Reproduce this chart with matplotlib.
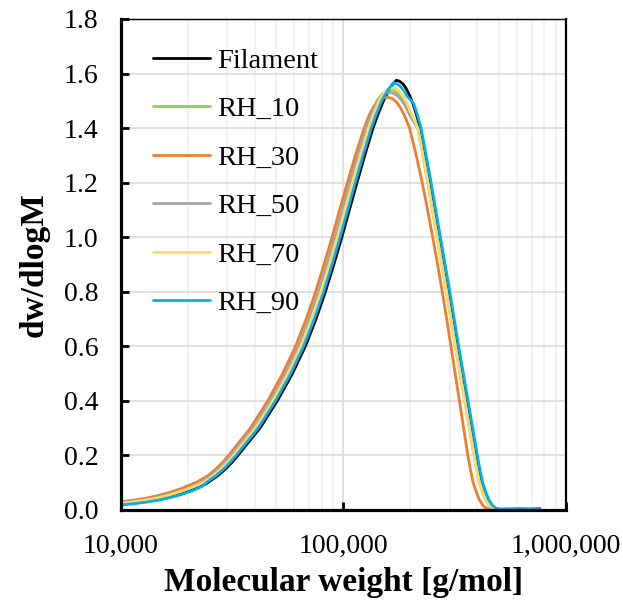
import numpy as np
import matplotlib.pyplot as plt
from matplotlib.ticker import FuncFormatter, LogLocator, MultipleLocator

plt.rcParams['font.family'] = ['Liberation Serif', 'DejaVu Serif']

# molecular weight [g/mol] and dw/dlogM for each sample
m_fil = [10000, 11480, 13180, 14790, 16600, 18620, 20890, 23170, 24600, 27230, 29510, 31620, 33570,
         42170, 50470, 59020, 67450, 75340, 82990, 90570, 98400, 106400, 115100, 124700, 135800,
         142900, 151400, 160300, 166300, 173000, 178600, 184900, 191400, 198200, 205100, 212800,
         221300, 233300, 245500, 257600, 270400, 283800, 297800, 311900, 326600, 342800, 359700,
         377600, 396300, 406400, 418800, 432500, 447700, 464500, 481900, 501200, 562000, 631000,
         708000, 758600]
w_fil = [0.02, 0.025, 0.031, 0.038, 0.047, 0.058, 0.072, 0.088, 0.10, 0.125, 0.15, 0.175, 0.20,
         0.30, 0.40, 0.50, 0.60, 0.70, 0.80, 0.90, 1.00, 1.10, 1.20, 1.30, 1.40,
         1.45, 1.50, 1.54, 1.56, 1.575, 1.572, 1.562, 1.545, 1.52, 1.49, 1.45,
         1.40, 1.30, 1.20, 1.10, 1.00, 0.90, 0.80, 0.70, 0.60, 0.50, 0.40,
         0.30, 0.20, 0.15, 0.10, 0.065, 0.035, 0.015, 0.006, 0.002, 0.002, 0.003,
         0.002, 0.004]

m_rh10 = [10000, 11480, 13180, 14790, 16600, 18620, 20890, 22950, 25410, 27530, 29500, 31320,
          39340, 47090, 55070, 62930, 70290, 77430, 84500, 91810, 99270, 107400, 116300, 126700,
          133300, 141300, 150000, 157000, 163000, 169000, 176000, 183000, 190000, 197000, 205000,
          216400, 228200, 240100, 251900, 264500, 277600, 291200, 305000, 319400, 335300, 351800,
          369300, 387600, 397500, 409600, 423000, 437900, 454300, 471300, 490200, 540000, 610000,
          690000, 760000]
w_rh10 = [0.026, 0.032, 0.039, 0.047, 0.057, 0.07, 0.086, 0.10, 0.125, 0.15, 0.175, 0.20,
          0.30, 0.40, 0.50, 0.60, 0.70, 0.80, 0.90, 1.00, 1.10, 1.20, 1.30, 1.40,
          1.45, 1.50, 1.525, 1.537, 1.54, 1.537, 1.527, 1.51, 1.488, 1.46, 1.43,
          1.40, 1.30, 1.20, 1.10, 1.00, 0.90, 0.80, 0.70, 0.60, 0.50, 0.40,
          0.30, 0.20, 0.15, 0.10, 0.065, 0.035, 0.015, 0.006, 0.002, 0.005, 0.003,
          0.004, 0.003]

m_rh30 = [10000, 11480, 13180, 14790, 16600, 18620, 20890, 21680, 24550, 26730, 28710, 30480,
          38190, 45710, 53330, 60950, 68080, 74990, 81850, 88920, 96160, 104200, 113200, 123900,
          130900, 137100, 144500, 151400, 158100, 165200, 172600, 180300, 188400, 198200, 212300,
          225900, 238800, 251800, 264900, 278000, 291100, 304100, 317700, 331900, 346700, 362200,
          371500, 382800, 395400, 409300, 424600, 439500, 457100, 524800, 602600, 676100, 741300]
w_rh30 = [0.03, 0.036, 0.044, 0.053, 0.064, 0.078, 0.095, 0.10, 0.125, 0.15, 0.175, 0.20,
          0.30, 0.40, 0.50, 0.60, 0.70, 0.80, 0.90, 1.00, 1.10, 1.20, 1.30, 1.40,
          1.45, 1.48, 1.50, 1.51, 1.513, 1.509, 1.497, 1.475, 1.445, 1.40, 1.30,
          1.20, 1.10, 1.00, 0.90, 0.80, 0.70, 0.60, 0.50, 0.40, 0.30, 0.20,
          0.15, 0.10, 0.065, 0.035, 0.015, 0.006, 0.002, 0.002, 0.003, 0.002, 0.003]

m_rh50 = [10000, 11480, 13180, 14790, 16600, 18620, 20890, 22880, 25320, 27440, 29410, 31220,
          39220, 46940, 54890, 62730, 70070, 77180, 84230, 91510, 98950, 107000, 116000, 126300,
          133000, 141000, 149500, 156000, 162000, 168000, 175000, 182000, 189000, 196000, 204000,
          215800, 227500, 239400, 251200, 263600, 276700, 290400, 304100, 318400, 334200, 350700,
          368200, 386400, 396200, 408300, 421700, 436500, 452900, 469900, 488700, 530000, 600000,
          680000, 750000]
w_rh50 = [0.026, 0.032, 0.039, 0.047, 0.057, 0.07, 0.086, 0.10, 0.125, 0.15, 0.175, 0.20,
          0.30, 0.40, 0.50, 0.60, 0.70, 0.80, 0.90, 1.00, 1.10, 1.20, 1.30, 1.40,
          1.45, 1.49, 1.515, 1.527, 1.53, 1.527, 1.518, 1.503, 1.483, 1.457, 1.43,
          1.40, 1.30, 1.20, 1.10, 1.00, 0.90, 0.80, 0.70, 0.60, 0.50, 0.40,
          0.30, 0.20, 0.15, 0.10, 0.065, 0.035, 0.015, 0.006, 0.002, 0.003, 0.002,
          0.004, 0.003]

m_rh70 = [10000, 11480, 13180, 14790, 16600, 18620, 20890, 23490, 26000, 28180, 30200, 32060,
          40270, 48200, 56360, 64410, 71950, 79250, 86490, 93970, 101600, 109900, 119100, 129700,
          136500, 144600, 153000, 159500, 165000, 171000, 178000, 185000, 192000, 199000, 207000,
          215800, 227500, 239400, 251200, 263600, 276700, 290400, 304100, 318400, 334200, 350700,
          368200, 386400, 396200, 408300, 421700, 436500, 452900, 469900, 488700, 540000, 600000,
          680000, 750000]
w_rh70 = [0.024, 0.03, 0.037, 0.045, 0.055, 0.068, 0.083, 0.10, 0.125, 0.15, 0.175, 0.20,
          0.30, 0.40, 0.50, 0.60, 0.70, 0.80, 0.90, 1.00, 1.10, 1.20, 1.30, 1.40,
          1.45, 1.50, 1.53, 1.545, 1.548, 1.545, 1.535, 1.518, 1.495, 1.465, 1.435,
          1.40, 1.30, 1.20, 1.10, 1.00, 0.90, 0.80, 0.70, 0.60, 0.50, 0.40,
          0.30, 0.20, 0.15, 0.10, 0.065, 0.035, 0.015, 0.006, 0.002, 0.003, 0.002,
          0.004, 0.003]

m_rh90 = [10000, 11480, 13180, 14790, 16600, 18620, 20890, 23170, 24160, 26740, 28980, 31050, 32970,
          41410, 49560, 57960, 66240, 73980, 81500, 88940, 96630, 104500, 113000, 122500, 133400,
          140300, 148700, 157400, 163000, 168000, 173500, 180000, 187000, 194000, 206900, 214700,
          223300, 235400, 247700, 259900, 272800, 286400, 300500, 314700, 329500, 345900, 362900,
          381000, 399900, 410100, 422600, 436400, 451700, 468700, 486200, 505700, 560000, 620000,
          690000, 765000]
w_rh90 = [0.018, 0.023, 0.029, 0.036, 0.045, 0.056, 0.07, 0.086, 0.10, 0.125, 0.15, 0.175, 0.20,
          0.30, 0.40, 0.50, 0.60, 0.70, 0.80, 0.90, 1.00, 1.10, 1.20, 1.30, 1.40,
          1.45, 1.50, 1.535, 1.553, 1.566, 1.563, 1.553, 1.537, 1.515, 1.49, 1.45,
          1.40, 1.30, 1.20, 1.10, 1.00, 0.90, 0.80, 0.70, 0.60, 0.50, 0.40,
          0.30, 0.20, 0.15, 0.10, 0.065, 0.035, 0.015, 0.006, 0.002, 0.003, 0.005,
          0.003, 0.006]

labels = ['Filament', 'RH_10', 'RH_30', 'RH_50', 'RH_70', 'RH_90']
colors = ['#000000', '#92d050', '#ed7d31', '#a5a5a5', '#ffd966', '#00b0f0']

fig = plt.figure(figsize=(6.23, 6.02), dpi=100)
ax = fig.add_axes([0.194, 0.153, 0.7145, 0.8155])

series = [(m_fil, w_fil), (m_rh10, w_rh10), (m_rh30, w_rh30),
          (m_rh50, w_rh50), (m_rh70, w_rh70), (m_rh90, w_rh90)]
for (m, w), lab, c in zip(series, labels, colors):
    ax.plot(m, w, color=c, lw=2.0, label=lab, solid_capstyle='round', solid_joinstyle='round')

ax.set_xscale('log')
ax.set_xlim(1e4, 1e6)
ax.set_ylim(0, 1.8)
ax.xaxis.set_major_locator(LogLocator(base=10))
ax.xaxis.set_minor_locator(LogLocator(base=10, subs=np.arange(2, 10)))
ax.xaxis.set_major_formatter(FuncFormatter(lambda v, p: f'{v:,.0f}'))
ax.yaxis.set_major_locator(MultipleLocator(0.2))
ax.yaxis.set_major_formatter(FuncFormatter(lambda v, p: f'{v:.1f}'))

ax.grid(which='major', color='#d9d9d9', lw=1.1)
ax.grid(which='minor', axis='x', color='#f0f0f0', lw=1.1)
ax.set_axisbelow(True)

ax.tick_params(which='major', direction='in', length=6, width=2, labelsize=20)
ax.tick_params(which='minor', length=0)
ax.tick_params(axis='y', pad=16)
ax.tick_params(axis='x', pad=17)
ax.tick_params(top=False, right=False)

ax.spines['left'].set_linewidth(2.3)
ax.spines['bottom'].set_linewidth(2.3)
ax.spines['top'].set_linewidth(1.0)
ax.spines['right'].set_linewidth(1.6)

ax.set_xlabel('Molecular weight [g/mol]', fontsize=24, fontweight='bold', labelpad=6)
ax.set_ylabel('dw/dlogM', fontsize=24, fontweight='bold', labelpad=10)

ax.legend(loc='upper left', bbox_to_anchor=(0.04, 0.97), frameon=False, fontsize=20.5,
          handlelength=2.0, handletextpad=0.25, labelspacing=0.79, borderpad=0)

fig.savefig('out.png', dpi=100)
